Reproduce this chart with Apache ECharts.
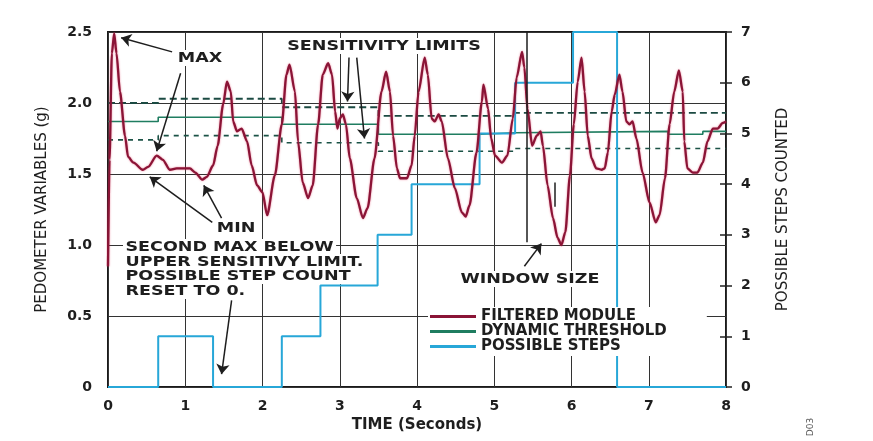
<!DOCTYPE html>
<html>
<head>
<meta charset="utf-8">
<script src="https://cdn.jsdelivr.net/npm/echarts@6/dist/echarts.min.js"></script>
<style>
html, body { margin: 0; padding: 0; background: #fff; }
#chart { width: 873px; height: 441px; }
</style>
</head>
<body>
<div id="chart"></div>
<script>
// filtered module (g) against time (s)
var fmTime = [0, 0.02, 0.05, 0.08, 0.11, 0.155, 0.22, 0.26, 0.33, 0.45, 0.52, 0.63, 0.71, 0.80, 0.89, 1.00, 1.06, 1.13, 1.22, 1.28,
	1.36, 1.42, 1.49, 1.54, 1.59, 1.62, 1.67, 1.73, 1.80, 1.86, 1.93, 2.00, 2.06, 2.16, 2.25, 2.31, 2.35, 2.42, 2.46, 2.52,
	2.59, 2.65, 2.72, 2.78, 2.85, 2.90, 2.94, 2.97, 3.00, 3.04, 3.08, 3.13, 3.22, 3.30, 3.36, 3.45, 3.54, 3.60, 3.65, 3.69,
	3.74, 3.78, 3.87, 3.93, 3.97, 4.02, 4.10, 4.14, 4.19, 4.23, 4.28, 4.32, 4.40, 4.49, 4.58, 4.63, 4.68, 4.77, 4.84, 4.86,
	4.92, 4.96, 5.01, 5.10, 5.17, 5.24, 5.29, 5.36, 5.39, 5.43, 5.49, 5.55, 5.60, 5.63, 5.69, 5.76, 5.82, 5.87, 5.92, 5.98,
	6.03, 6.08, 6.13, 6.17, 6.21, 6.26, 6.32, 6.39, 6.43, 6.47, 6.52, 6.56, 6.62, 6.66, 6.71, 6.75, 6.79, 6.84, 6.92, 7.01,
	7.09, 7.14, 7.21, 7.27, 7.33, 7.39, 7.44, 7.46, 7.50, 7.57, 7.63, 7.70, 7.76, 7.83, 7.89, 7.96, 8.00];
var fmValue = [0.85, 1.60, 2.35, 2.49, 2.35, 2.08, 1.77, 1.62, 1.58, 1.53, 1.55, 1.63, 1.60, 1.53, 1.54, 1.54, 1.54, 1.51, 1.46, 1.48,
	1.56, 1.70, 1.99, 2.15, 2.08, 1.87, 1.80, 1.82, 1.73, 1.56, 1.42, 1.37, 1.21, 1.49, 1.85, 2.20, 2.27, 2.08, 1.73, 1.44,
	1.33, 1.42, 1.85, 2.20, 2.28, 2.20, 1.94, 1.82, 1.89, 1.92, 1.85, 1.61, 1.33, 1.19, 1.26, 1.61, 2.08, 2.22, 2.08, 1.77,
	1.54, 1.47, 1.47, 1.56, 1.77, 2.08, 2.32, 2.20, 1.89, 1.87, 1.92, 1.87, 1.61, 1.40, 1.23, 1.20, 1.28, 1.65, 2.01, 2.13,
	1.96, 1.75, 1.63, 1.58, 1.63, 1.89, 2.18, 2.36, 2.25, 1.96, 1.70, 1.77, 1.80, 1.70, 1.42, 1.19, 1.05, 1.00, 1.09, 1.49,
	1.85, 2.15, 2.32, 2.08, 1.77, 1.61, 1.54, 1.53, 1.54, 1.65, 1.94, 2.06, 2.20, 2.08, 1.87, 1.85, 1.87, 1.75, 1.51, 1.30,
	1.16, 1.21, 1.47, 1.85, 2.08, 2.23, 2.08, 1.73, 1.54, 1.51, 1.51, 1.58, 1.73, 1.82, 1.82, 1.86, 1.87];

// dynamic threshold and the two sensitivity limits (step changes)
var thTime = [0, 0.65, 2.25, 3.5, 4.81, 5.27, 7.25, 7.7, 8];
var thValue = [1.87, 1.90, 1.85, 1.78, 1.79, 1.80, 1.78, 1.80, 1.80];
var upTime = [0, 0.65, 2.25, 3.5, 5.27, 8];
var upValue = [2.00, 2.03, 1.97, 1.91, 1.93, 1.93];
var loTime = [0, 0.65, 2.25, 3.5, 5.27, 8];
var loValue = [1.74, 1.77, 1.72, 1.66, 1.68, 1.68];

// possible steps counted (right axis)
var stepTime = [0, 0.65, 1.36, 2.25, 2.75, 3.49, 3.93, 4.81, 5.27, 6.02, 6.59, 8];
var stepCount = [0, 1, 0, 1, 2, 3, 4, 5, 6, 7, 0, 0];

var timeTicks = [0, 1, 2, 3, 4, 5, 6, 7, 8];

function pairs(ts, vs) {
	return ts.map(function(t, i) { return [t, vs[i]]; });
}

var chart = echarts.init(document.getElementById('chart'));

var boldFont = 'DejaVu Sans';
var ink = '#1e1e1e';

//箭头 (t1, v1, t2, v2), in data units
var arrowNotes = [
	[0.83, 2.36, 0.17, 2.46],
	[0.94, 2.21, 0.63, 1.66],
	[3.12, 2.32, 3.10, 2.01],
	[3.22, 2.32, 3.32, 1.75],
	[1.35, 1.16, 0.54, 1.48],
	[1.47, 1.19, 1.24, 1.42],
	[1.60, 0.61, 1.47, 0.09],
	[5.39, 0.85, 5.61, 1.01]
];
var windowMarks = [
	[5.42, 2.5, 5.42, 1.02],
	[5.78, 1.44, 5.78, 1.27]
];

var noteLines = arrowNotes.map(function(a) {
	return [{ coord: [a[0], a[1]], symbol: 'none' }, { coord: [a[2], a[3]], symbol: 'arrow' }];
}).concat(windowMarks.map(function(a) {
	return [{ coord: [a[0], a[1]], symbol: 'none' }, { coord: [a[2], a[3]], symbol: 'none' }];
}));

function note(text, x, y, align) {
	return {
		type: 'text',
		x: x,
		y: y,
		scaleX: 1.25,
		z: 50,
		style: {
			text: text,
			font: 'bold 14px "' + boldFont + '"',
			fill: ink,
			align: align || 'center',
			verticalAlign: 'middle',
			backgroundColor: '#fff',
			padding: [1, 2]
		}
	};
}

chart.setOption({
	animation: false,
	backgroundColor: '#fff',
	grid: {
		left: 108,
		right: 147,
		top: 32,
		bottom: 54,
		show: true,
		borderColor: '#1a1a1a',
		borderWidth: 2,
		backgroundColor: 'transparent'
	},
	legend: {
		orient: 'vertical',
		left: 428,
		top: 307,
		icon: 'rect',
		itemGap: 0,
		itemWidth: 46,
		itemHeight: 3,
		backgroundColor: '#fff',
		padding: [2, 40, 2, 2],
		data: ['FILTERED MODULE', 'DYNAMIC THRESHOLD', 'POSSIBLE STEPS'],
		textStyle: {
			color: ink,
			fontFamily: boldFont,
			fontWeight: 'bold',
			fontSize: 15,
			lineHeight: 15
		}
	},
	xAxis: {
		type: 'value',
		min: 0,
		max: 8,
		interval: 1,
		name: 'TIME (Seconds)',
		nameLocation: 'middle',
		nameGap: 31,
		nameTextStyle: { color: ink, fontFamily: boldFont, fontWeight: 'bold', fontSize: 15 },
		axisLine: { show: false },
		axisTick: { show: false },
		axisLabel: {
			margin: 12,
			color: ink,
			fontFamily: boldFont,
			fontWeight: 'bold',
			fontSize: 14,
			formatter: function(v) { return timeTicks.indexOf(v) >= 0 ? String(v) : ''; }
		},
		splitLine: { show: true, lineStyle: { color: '#333', width: 1 } }
	},
	yAxis: [{
		type: 'value',
		min: 0,
		max: 2.5,
		interval: 0.5,
		name: 'PEDOMETER VARIABLES (g)',
		nameLocation: 'middle',
		nameRotate: 90,
		nameGap: 58,
		nameTextStyle: { color: ink, fontFamily: 'DejaVu Sans', fontSize: 15 },
		axisLine: { show: false },
		axisTick: { show: false },
		axisLabel: {
			margin: 16,
			color: ink,
			fontFamily: boldFont,
			fontWeight: 'bold',
			fontSize: 14,
			formatter: function(v) { return v === 0 ? '0' : v.toFixed(1); }
		},
		splitLine: { show: true, lineStyle: { color: '#333', width: 1 } }
	}, {
		type: 'value',
		min: 0,
		max: 7,
		interval: 1,
		position: 'right',
		name: 'POSSIBLE STEPS COUNTED',
		nameLocation: 'middle',
		nameRotate: 90,
		nameGap: 50,
		nameTextStyle: { color: ink, fontFamily: 'DejaVu Sans', fontSize: 15 },
		axisLine: { show: false },
		axisTick: { show: true, length: 6, lineStyle: { color: '#222', width: 1.5 } },
		axisLabel: {
			margin: 15,
			color: ink,
			fontFamily: boldFont,
			fontWeight: 'bold',
			fontSize: 14
		},
		splitLine: { show: false }
	}, {
		type: 'value',
		min: 0,
		max: 7,
		interval: 1,
		position: 'right',
		axisLine: { show: false },
		axisTick: { show: true, inside: true, length: 6, lineStyle: { color: '#222', width: 1.5 } },
		axisLabel: { show: false },
		splitLine: { show: false }
	}],
	graphic: [
		note('MAX', 200, 58),
		note('SENSITIVITY LIMITS', 384, 46),
		note('MIN', 236, 228),
		note('SECOND MAX BELOW', 123, 247, 'left'),
		note('UPPER SENSITIVY LIMIT.', 123, 262, 'left'),
		note('POSSIBLE STEP COUNT', 123, 276, 'left'),
		note('RESET TO 0.', 123, 291, 'left'),
		note('WINDOW SIZE', 530, 279),
		{
			type: 'text',
			x: 811,
			y: 427,
			rotation: Math.PI / 2,
			style: {
				text: 'D03',
				font: '9px "DejaVu Sans"',
				fill: '#555',
				align: 'center',
				verticalAlign: 'middle'
			}
		}
	],
	series: [{
		name: 'UPPER LIMIT',
		type: 'line',
		step: 'end',
		symbol: 'none',
		yAxisIndex: 0,
		lineStyle: { color: '#1b4a42', width: 1.8, type: [7, 4] },
		data: pairs(upTime, upValue)
	}, {
		name: 'LOWER LIMIT',
		type: 'line',
		step: 'end',
		symbol: 'none',
		yAxisIndex: 0,
		lineStyle: { color: '#1b5246', width: 1.6, type: [5, 5] },
		data: pairs(loTime, loValue)
	}, {
		name: 'DYNAMIC THRESHOLD',
		type: 'line',
		step: 'end',
		symbol: 'none',
		yAxisIndex: 0,
		color: '#1f7d60',
		lineStyle: { color: '#1f7d60', width: 1.6 },
		data: pairs(thTime, thValue)
	}, {
		name: 'POSSIBLE STEPS',
		type: 'line',
		step: 'end',
		symbol: 'none',
		yAxisIndex: 1,
		color: '#27a7d8',
		lineStyle: { color: '#27a7d8', width: 2 },
		data: pairs(stepTime, stepCount)
	}, {
		name: 'FILTERED MODULE',
		type: 'line',
		symbol: 'none',
		smooth: 0.25,
		smoothMonotone: 'x',
		yAxisIndex: 0,
		color: '#8a1436',
		lineStyle: {
			color: '#8a1436',
			width: 2.3,
			shadowColor: 'rgba(220, 40, 80, 0.6)',
			shadowBlur: 2
		},
		data: pairs(fmTime, fmValue)
	}, {
		name: 'notes',
		type: 'line',
		yAxisIndex: 0,
		data: [],
		markLine: {
			silent: true,
			symbolSize: 10,
			label: { show: false },
			lineStyle: { color: ink, width: 1.5, type: 'solid' },
			emphasis: { disabled: true },
			data: noteLines
		}
	}]
});
</script>
</body>
</html>
